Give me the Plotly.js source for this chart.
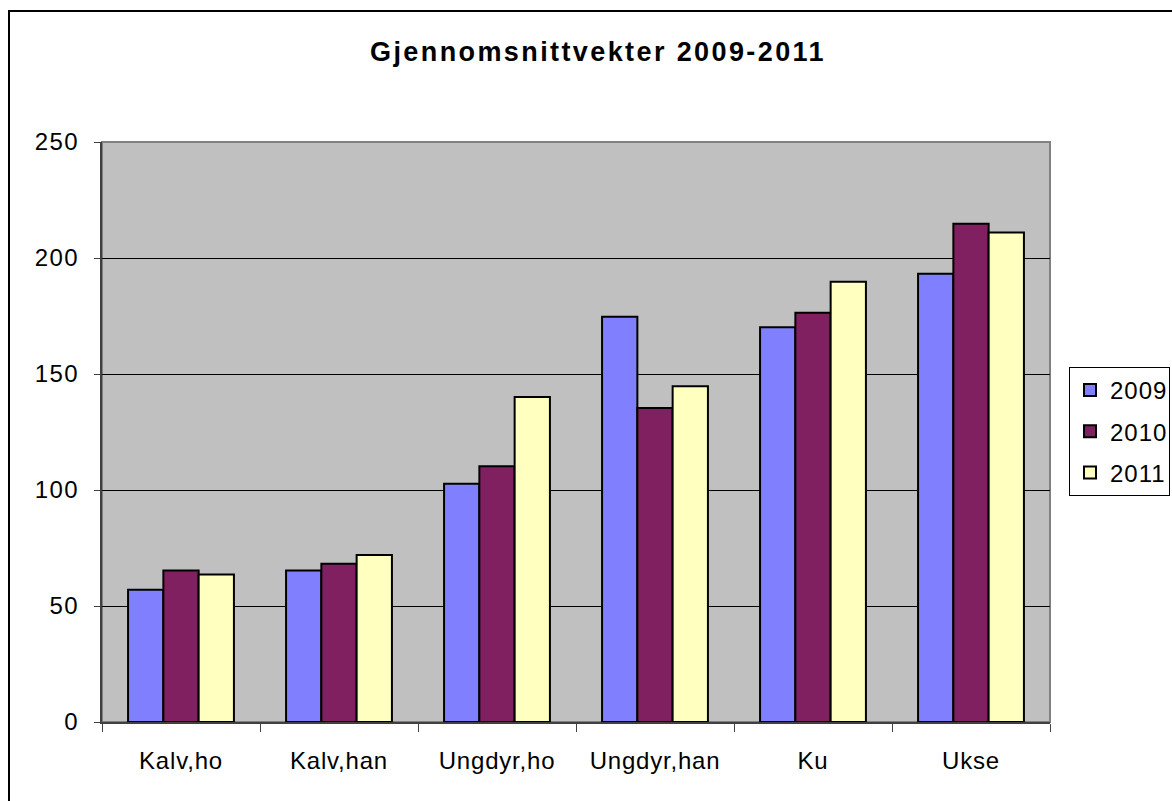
<!DOCTYPE html>
<html>
<head>
<meta charset="utf-8">
<script src="https://cdn.plot.ly/plotly-3.0.1.min.js"></script>
<style>
html,body{margin:0;padding:0;background:#fff;}
#chart{width:1172px;height:801px;}
#chart .gtitle{letter-spacing:2.4px;}
#chart .xtick text{letter-spacing:0.8px;}
#chart .ytick text{letter-spacing:1.5px;}
#chart .legendtext{letter-spacing:1px;}
</style>
</head>
<body>
<div id="chart"></div>
<script>
const categories = ["Kalv,ho", "Kalv,han", "Ungdyr,ho", "Ungdyr,han", "Ku", "Ukse"];
const seriesNames = ["2009", "2010", "2011"];
const values2009 = [57.0, 65.3, 102.7, 174.7, 170.1, 193.2];
const values2010 = [65.3, 68.2, 110.2, 135.3, 176.4, 214.8];
const values2011 = [63.6, 72.0, 140.1, 144.7, 189.8, 211.0];
const yTicks = [0, 50, 100, 150, 200, 250];

const colors = ["#8080FF", "#802060", "#FFFFC0"];
const allValues = [values2009, values2010, values2011];

const traces = allValues.map((vals, i) => ({
  type: "bar",
  name: seriesNames[i],
  legendgroup: "g" + i,
  x: categories,
  y: vals,
  marker: {color: colors[i], line: {color: "#000000", width: 2}},
  hoverinfo: "x+y+name"
}));

const L = 102, R = 1050, T = 142, B = 722, W = 1172, H = 801;
const pw = R - L, ph = B - T;

const layout = {
  width: W, height: H,
  margin: {l: L, r: W - R, t: T, b: H - B, pad: 0, autoexpand: false},
  paper_bgcolor: "#ffffff",
  plot_bgcolor: "#C0C0C0",
  font: {family: "Liberation Sans, Arial, sans-serif", color: "#000000", size: 24},
  title: {
    text: "<b>Gjennomsnittvekter 2009-2011</b>",
    font: {size: 27, family: "Liberation Sans, Arial, sans-serif", color: "#000"},
    x: (598 - L) / pw, xanchor: "center", xref: "paper",
    y: 1 - 52 / H, yanchor: "middle"
  },
  barmode: "group",
  bargap: 0.33,
  bargroupgap: 0,
  xaxis: {
    type: "category",
    showgrid: false,
    ticks: "outside",
    tickson: "boundaries",
    ticklen: 8,
    tickwidth: 1,
    tickcolor: "#404040",
    showline: true,
    linecolor: "#404040",
    linewidth: 2,
    tickfont: {size: 24},
    ticklabelstandoff: 16,
    fixedrange: true
  },
  yaxis: {
    range: [0, 250],
    tickvals: yTicks,
    ticktext: yTicks.map(String),
    showgrid: true,
    gridcolor: "#000000",
    gridwidth: 1,
    zeroline: false,
    ticks: "outside",
    ticklen: 6,
    tickwidth: 1,
    tickcolor: "#404040",
    showline: true,
    linecolor: "#404040",
    linewidth: 2,
    tickfont: {size: 24},
    ticklabelstandoff: 10,
    fixedrange: true
  },
  legend: {
    x: (1069 - L) / pw, xanchor: "left",
    y: (B - 367) / ph, yanchor: "top",
    bgcolor: "#ffffff",
    bordercolor: "#000000",
    borderwidth: 1,
    font: {size: 24},
    tracegroupgap: 7,
    itemwidth: 30
  },
  shapes: [
    {type: "rect", xref: "paper", yref: "paper",
     x0: 0, x1: 1, y0: 0, y1: 1,
     line: {color: "#808080", width: 2}, layer: "below", fillcolor: "rgba(0,0,0,0)"},
    {type: "rect", xref: "paper", yref: "paper",
     x0: (9 - L) / pw, x1: (W + 20 - L) / pw,
     y0: (B - (H + 20)) / ph, y1: (B - 11) / ph,
     line: {color: "#000000", width: 2}, fillcolor: "rgba(0,0,0,0)"}
  ],
  showlegend: true
};

Plotly.newPlot("chart", traces, layout, {displayModeBar: false, staticPlot: true});
</script>
</body>
</html>
